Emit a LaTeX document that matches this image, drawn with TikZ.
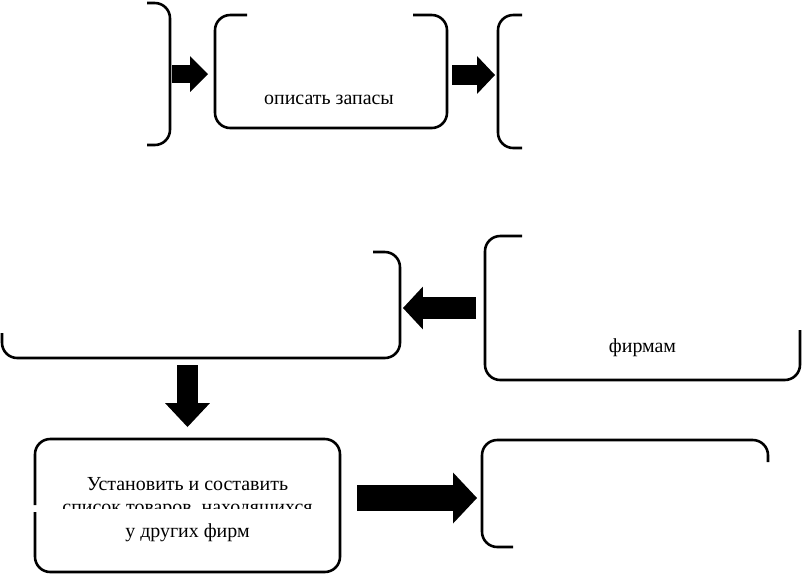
\documentclass[tikz,border=0pt]{standalone}
\usepackage{fontspec}
\setmainfont{Liberation Serif}
\usetikzlibrary{arrows.meta, calc, fit}

\tikzset{
  edge/.style={line width=2.2pt, rounded corners=13pt},
  box/.style={inner sep=0pt, outer sep=0pt},
  txt/.style={inner sep=0pt, anchor=base, font=\fontsize{17}{20}\selectfont},
  blockarr/.style n args={3}{line width=#1, -{Triangle[length=#2, width=#3, line width=0pt]}}
}

\begin{document}
\begin{tikzpicture}[x=0.03cm, y=-0.03cm]
    \useasboundingbox (0,0) rectangle (804,574);

    % Boxes (only the parts that are still visible get an outline)
    \node[box, fit={(-130,3) (170,145)}] (A) {};
    \node[box, fit={(215,15) (447,128)}] (B) {};
    \node[box, fit={(498,15) (830,148)}] (C) {};
    \node[box, fit={(2,252) (400,358)}] (D) {};
    \node[box, fit={(485,236) (800,380)}] (E) {};
    \node[box, fit={(35,439) (340,572)}] (F) {};
    \node[box, fit={(482,440) (768,547)}] (G) {};

    \draw[edge] ($(A.north east)+(-23,0)$) -- (A.north east) -- (A.south east) -- ($(A.south east)+(-23,0)$);
    \draw[edge] ($(B.north west)+(32,0)$) -- (B.north west) -- (B.south west) -- (B.south east) -- (B.north east) -- ($(B.north east)+(-34,0)$);
    \draw[edge] ($(C.north west)+(24,0)$) -- (C.north west) -- (C.south west) -- ($(C.south west)+(24,0)$);
    \draw[edge] ($(D.north east)+(-27,0)$) -- (D.north east) -- (D.south east) -- (D.south west) -- ($(D.south west)+(0,-25)$);
    \draw[edge] ($(E.north west)+(37,0)$) -- (E.north west) -- (E.south west) -- (E.south east) -- ($(E.south east)+(0,-50)$);
    \draw[edge] ($(F.north west)+(0,73)$) -- (F.south west) -- (F.south east) -- (F.north east) -- (F.north west) -- ($(F.north west)+(0,66)$);
    \draw[edge] ($(G.south west)+(31,0)$) -- (G.south west) -- (G.north west) -- (G.north east) -- ($(G.north east)+(0,22)$);

    % Texts
    \node[txt] (tB) at ($(B.south)+(-2,-24)$) {описать запасы};
    \node[txt] (tE) at ($(E.south)+(0,-28)$) {фирмам};
    \node[txt] (tF1) at ($(F.north)+(0,51)$) {Установить и составить};
    \begin{scope}
        \clip (0,495) rectangle (804,508.5);
        \node[txt] (tF2) at ($(F.north)+(0,74.5)$) {список товаров, находящихся};
    \end{scope}
    \node[txt] (tF3) at ($(F.north)+(0,98)$) {у других фирм};

    % Block arrows
    \draw[blockarr={15.3pt}{15.3pt}{30.6pt}] ($(A.east)+(2,0)$) -- ($(B.west|-A.east)+(-7,0)$);
    \draw[blockarr={17pt}{15.3pt}{32.3pt}] ($(B.east|-A.east)+(5,1)$) -- ($(C.west|-A.east)+(-3,1)$);
    \draw[blockarr={19.6pt}{17pt}{36.6pt}] ($(E.west)+(-9,0)$) -- ($(D.east|-E.west)+(3,0)$);
    \draw[blockarr={17.9pt}{20.4pt}{38.3pt}] ($(F.north|-D.south)+(0,7)$) -- ($(F.north)+(0,-12)$);
    \draw[blockarr={22.1pt}{20.4pt}{43.4pt}] ($(F.east|-G.west)+(17,4.5)$) -- ($(G.west)+(-5,4.5)$);
\end{tikzpicture}
\end{document}
